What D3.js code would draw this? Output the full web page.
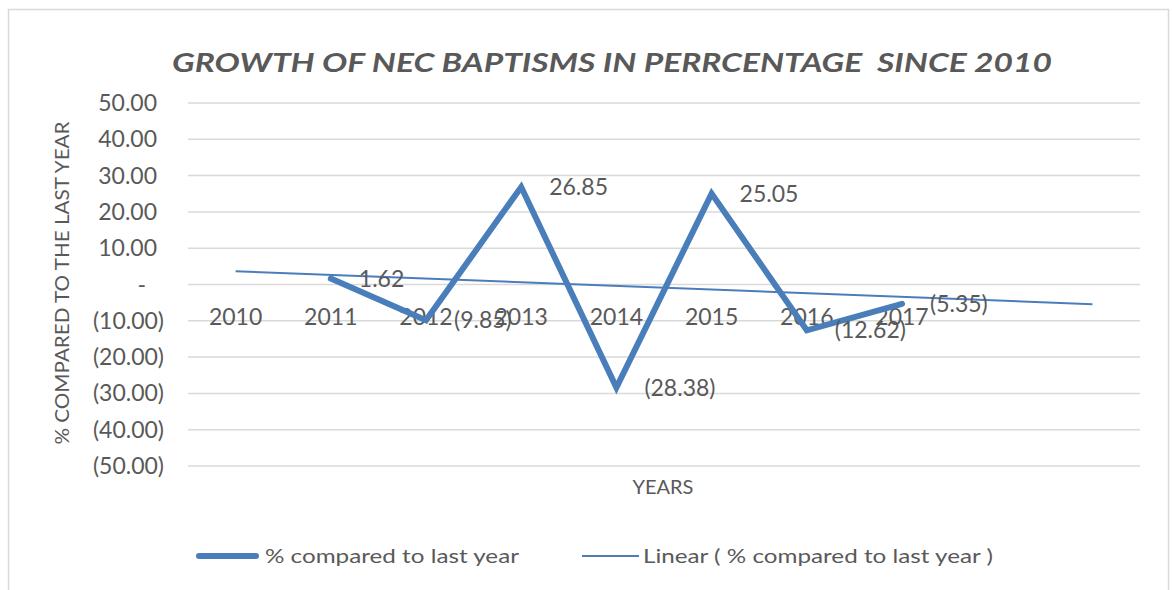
<!DOCTYPE html>
<html>
<head>
<meta charset="utf-8">
<script src="https://cdn.jsdelivr.net/npm/d3@7/dist/d3.min.js"></script>
<style>
  html, body { margin: 0; padding: 0; background: #fff; }
  svg { display: block; }
  text { font-family: Lato, "Open Sans", sans-serif; fill: #595959; }
</style>
</head>
<body>
<script>
// Category axis: eight labelled years plus two empty slots the trendline runs into
const years = ["2010", "2011", "2012", "2013", "2014", "2015", "2016", "2017", "", ""];
// Year-on-year change in baptisms (%); 2010 has no prior year
const pctChange = [null, 1.62, -9.85, 26.85, -28.38, 25.05, -12.62, -5.35];
const yTicks = [50, 40, 30, 20, 10, 0, -10, -20, -30, -40, -50];

const W = 1172, H = 590;
const blue = "#4a7ebb";
const labelSize = 23;

const svg = d3.select("body").append("svg").attr("width", W).attr("height", H);

// chart frame
svg.append("rect").attr("x", 8.5).attr("y", 9.5).attr("width", 1160).attr("height", 600)
  .attr("fill", "#fff").attr("stroke", "#d9d9d9").attr("stroke-width", 1.5);

const x = d3.scaleBand().domain(d3.range(years.length)).range([188, 1140]);
const cx = i => x(i) + x.bandwidth() / 2;
const y = d3.scaleLinear().domain([-50, 50]).range([466, 103]);

// accounting-style number format: (9.85) for negatives, "-" for zero
const fmt = v => v === 0 ? "-" : v < 0 ? "(" + d3.format(",.2f")(-v) + ")" : d3.format(",.2f")(v);

// gridlines
svg.append("g").selectAll("line").data(yTicks).join("line")
  .attr("x1", 188).attr("x2", 1140)
  .attr("y1", d => y(d)).attr("y2", d => y(d))
  .attr("stroke", "#d9d9d9").attr("stroke-width", 1.5);

// y tick labels
svg.append("g").selectAll("text").data(yTicks).join("text")
  .attr("x", d => d < 0 ? 164 : d === 0 ? 146 : 157)
  .attr("y", d => y(d))
  .attr("dy", "0.35em")
  .attr("text-anchor", "end")
  .attr("font-size", labelSize)
  .text(fmt);

// x tick labels
svg.append("g").selectAll("text").data(years).join("text")
  .attr("x", (d, i) => cx(i))
  .attr("y", y(0) + 32)
  .attr("dy", "0.35em")
  .attr("text-anchor", "middle")
  .attr("font-size", labelSize)
  .text(d => d);

// linear trendline (least squares over the plotted points, extended across all categories)
const pts = pctChange.map((v, i) => ({ i: i + 1, v })).filter(d => d.v != null);
const mx = d3.mean(pts, d => d.i), my = d3.mean(pts, d => d.v);
const slope = d3.sum(pts, d => (d.i - mx) * (d.v - my)) / d3.sum(pts, d => (d.i - mx) ** 2);
const trend = i => my + slope * (i + 1 - mx);
svg.append("line")
  .attr("x1", cx(0)).attr("y1", y(trend(0)))
  .attr("x2", cx(years.length - 1)).attr("y2", y(trend(years.length - 1)))
  .attr("stroke", blue).attr("stroke-width", 2);

// main series
const series = pctChange.map((v, i) => ({ i, v })).filter(d => d.v != null);
svg.append("path").datum(series)
  .attr("d", d3.line().x(d => cx(d.i)).y(d => y(d.v)))
  .attr("fill", "none").attr("stroke", blue).attr("stroke-width", 6)
  .attr("stroke-linejoin", "miter").attr("stroke-linecap", "round");

// data labels to the right of each point
svg.append("g").selectAll("text").data(series).join("text")
  .attr("x", d => cx(d.i) + 28)
  .attr("y", d => y(d.v))
  .attr("dy", "0.35em")
  .attr("font-size", labelSize)
  .text(d => fmt(d.v));

// title
svg.append("text")
  .attr("x", 612).attr("y", 72)
  .attr("text-anchor", "middle")
  .attr("font-size", 27).attr("font-weight", "bold").attr("font-style", "italic")
  .attr("xml:space", "preserve")
  .style("white-space", "pre")
  .attr("textLength", 880).attr("lengthAdjust", "spacingAndGlyphs")
  .text("GROWTH OF NEC BAPTISMS IN PERRCENTAGE  SINCE 2010");

// axis titles
svg.append("text")
  .attr("transform", "translate(62,283) rotate(-90)")
  .attr("text-anchor", "middle").attr("dy", "0.35em")
  .attr("font-size", 20)
  .attr("textLength", 323).attr("lengthAdjust", "spacingAndGlyphs")
  .text("% COMPARED TO THE LAST YEAR");

svg.append("text")
  .attr("x", 663).attr("y", 487).attr("dy", "0.35em")
  .attr("text-anchor", "middle")
  .attr("font-size", 20)
  .text("YEARS");

// legend
const legend = svg.append("g");
legend.append("line").attr("x1", 199).attr("x2", 256).attr("y1", 556).attr("y2", 556)
  .attr("stroke", blue).attr("stroke-width", 6).attr("stroke-linecap", "round");
legend.append("text").attr("x", 265).attr("y", 556).attr("dy", "0.35em")
  .attr("font-size", 20)
  .attr("textLength", 254).attr("lengthAdjust", "spacingAndGlyphs")
  .text("% compared to last year");
legend.append("line").attr("x1", 582).attr("x2", 639).attr("y1", 556).attr("y2", 556)
  .attr("stroke", blue).attr("stroke-width", 2);
legend.append("text").attr("x", 643).attr("y", 556).attr("dy", "0.35em")
  .attr("font-size", 20)
  .attr("textLength", 350).attr("lengthAdjust", "spacingAndGlyphs")
  .text("Linear ( % compared to last year )");
</script>
</body>
</html>
